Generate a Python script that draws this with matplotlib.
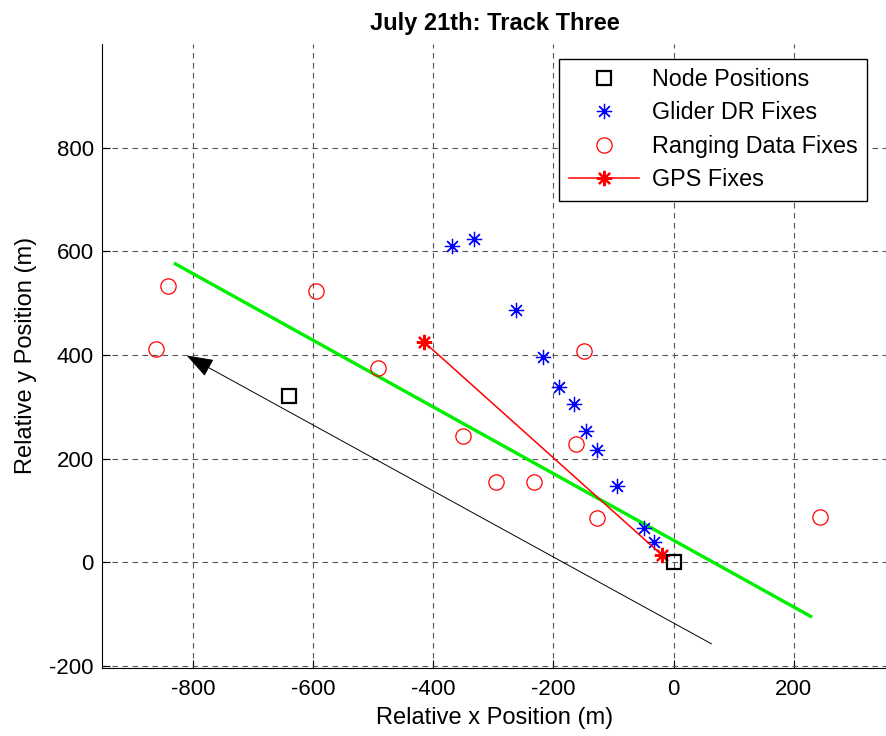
import matplotlib
matplotlib.use("Agg")
import matplotlib.pyplot as plt

# data
node_x = [-640, 0]
node_y = [322, 0]

dr_x = [-368, -332, -262, -217, -191, -166, -146, -127, -94, -50, -32]
dr_y = [611, 624, 487, 397, 338, 306, 253, 217, 147, 66, 39]

rng_x = [-842, -861, -595, -492, -351, -149, -163, -296, -233, -127, 244]
rng_y = [534, 412, 524, 376, 243, 407, 229, 155, 155, 85, 88]

gps_x = [-415, -20]
gps_y = [425, 15]

fit_x = [-829, 228]
fit_y = [576, -104]

arrow_tail = (63, -157)
arrow_head = (-810, 399)

xticks = [-800, -600, -400, -200, 0, 200]
yticks = [-200, 0, 200, 400, 600, 800]

plt.rcParams['font.family'] = ['Liberation Sans', 'DejaVu Sans']
plt.rcParams['axes.unicode_minus'] = False

fig = plt.figure(figsize=(8.87, 7.36), dpi=100)
ax = fig.add_axes([0.115, 0.0928, 0.885, 0.8474])

star = (8, 2, 0)
ax.plot(node_x, node_y, ls='none', marker='s', ms=10, mfc='none',
        mec='k', mew=1.6, label='Node Positions', zorder=5)
ax.plot(dr_x, dr_y, ls='none', marker=star, ms=11, mec='b', mew=0.9,
        label='Glider DR Fixes', zorder=4)
ax.plot(rng_x, rng_y, ls='none', marker='o', ms=11, mfc='none', mec='r',
        mew=0.9, label='Ranging Data Fixes', zorder=4)
ax.plot(gps_x, gps_y, color='r', lw=1.1, marker=star, ms=11, mec='r',
        mew=1.6, label='GPS Fixes', zorder=4)
ax.plot(fit_x, fit_y, color='#00ee00', lw=2.4, zorder=3)
ax.annotate('', xy=arrow_head, xytext=arrow_tail,
            arrowprops=dict(arrowstyle='-|>,head_length=0.7,head_width=0.25',
                            color='k', lw=0.7, mutation_scale=24,
                            shrinkA=0, shrinkB=0),
            zorder=3)

ax.set_xlim(-951, 355)
ax.set_ylim(-203, 1000)
ax.set_xticks(xticks)
ax.set_yticks(yticks)
ax.tick_params(direction='in', length=6, width=0.8, labelsize=16)
ax.tick_params(axis='y', pad=6)
ax.tick_params(axis='x', pad=8)
ax.spines['top'].set_visible(False)
ax.spines['right'].set_visible(False)
ax.grid(True, color='#555555', lw=0.8, ls=(0, (5, 4)))
ax.set_axisbelow(True)

ax.set_xlabel('Relative x Position (m)', fontsize=17, labelpad=5)
ax.set_ylabel('Relative y Position (m)', fontsize=17, labelpad=9)
ax.set_title('July 21th: Track Three', fontsize=17, fontweight='bold', pad=10)

leg = ax.legend(loc='upper left', bbox_to_anchor=(0.6306, 0.9203),
                bbox_transform=fig.transFigure, fontsize=16.8, fancybox=False,
                framealpha=1, edgecolor='k', borderaxespad=0,
                handlelength=3.0, handletextpad=0.55, labelspacing=0.45,
                borderpad=0.4)
leg.get_frame().set_linewidth(1.0)

fig.savefig('out.png', dpi=100)
